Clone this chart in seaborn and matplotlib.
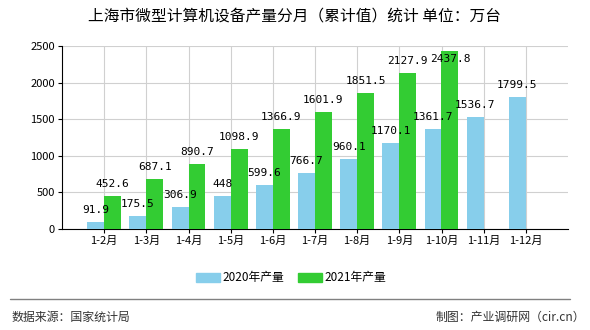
import matplotlib
matplotlib.use("Agg")
import matplotlib.pyplot as plt
import seaborn as sns
import pandas as pd
import numpy as np
from matplotlib.patches import Patch

months = ["1-2月", "1-3月", "1-4月", "1-5月", "1-6月", "1-7月", "1-8月", "1-9月", "1-10月", "1-11月", "1-12月"]
v2020 = [91.9, 175.5, 306.9, 448, 599.6, 766.7, 960.1, 1170.1, 1361.7, 1536.7, 1799.5]
v2021 = [452.6, 687.1, 890.7, 1098.9, 1366.9, 1601.9, 1851.5, 2127.9, 2437.8, np.nan, np.nan]
series = ["2020年产量", "2021年产量"]
colors = ["#87CEEB", "#33CC33"]
yticks = [0, 500, 1000, 1500, 2000, 2500]

sns.set_style("white")
plt.rcParams['font.family'] = ['Noto Sans CJK SC', 'DejaVu Sans']
plt.rcParams['text.color'] = 'black'
plt.rcParams['xtick.color'] = 'black'
plt.rcParams['ytick.color'] = 'black'

df = pd.DataFrame({
    "month": months * 2,
    "value": v2020 + v2021,
    "series": [series[0]] * len(months) + [series[1]] * len(months),
})

fig = plt.figure(figsize=(5.9, 3.3), dpi=100)
ax = fig.add_axes([62/590, 1 - 229/330, (568-62)/590, (229-46)/330])

sns.barplot(data=df, x="month", y="value", hue="series", palette=colors,
            width=0.8, gap=0, saturation=1, linewidth=0, edgecolor="none",
            ax=ax, legend=False, zorder=3)

ax.set_xlim(-1, 11)
ax.set_ylim(0, 2500)
ax.set_yticks(yticks)
ax.set_xticks(range(len(months)))
ax.set_xticklabels(months, fontsize=8)
ax.tick_params(axis='y', labelsize=8, length=3, direction='out', left=True, pad=2)
ax.tick_params(axis='x', length=3, direction='out', bottom=True, pad=2)
ax.set_xlabel("")
ax.set_ylabel("")
ax.grid(True, color="#d0d0d0", linewidth=0.8, zorder=0)
ax.set_axisbelow(True)
for s in ["top", "right"]:
    ax.spines[s].set_visible(False)
for s in ["left", "bottom"]:
    ax.spines[s].set_color("black")
    ax.spines[s].set_linewidth(0.8)

# label placement: ~12px above bar top, kept inside the plot area
px_per_unit = (229 - 46) / 2500
for cont in ax.containers:
    for bar in cont:
        h = bar.get_height()
        if np.isnan(h) or h == 0:
            continue
        y = min(h + 12 / px_per_unit, 2500 - 13 / px_per_unit)
        ax.text(bar.get_x() + bar.get_width()/2, y, f"{h:g}",
                ha="center", va="center", fontsize=8,
                family=["DejaVu Sans Mono"], zorder=5)

handles = [Patch(color=c, label=s) for c, s in zip(colors, series)]
fig.legend(handles=handles, loc="center", bbox_to_anchor=(291/590, 1 - 278/330),
           ncol=2, frameon=False, fontsize=8.5, handlelength=2.0, handleheight=0.8,
           columnspacing=1.2, handletextpad=0.2, borderpad=0)

fig.text(295/590, 1 - 16/330, "上海市微型计算机设备产量分月（累计值）统计 单位：万台",
         ha="center", va="center", fontsize=11.3, color="black")
fig.add_artist(plt.Line2D([10/590, 570/590], [1 - 299/330, 1 - 299/330],
                          color="#808080", linewidth=1))
fig.text(12/590, 1 - 317/330, "数据来源：国家统计局", ha="left", va="center",
         fontsize=8.6, color="#333333")
fig.text(585/590, 1 - 317/330, "制图：产业调研网（cir.cn）", ha="right", va="center",
         fontsize=8.6, color="#333333")

fig.savefig("out.png", dpi=100)
